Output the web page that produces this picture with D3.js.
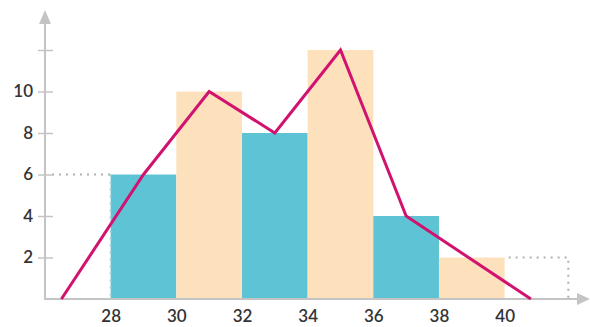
<!DOCTYPE html>
<html>
<head>
<meta charset="utf-8">
<script src="https://cdn.jsdelivr.net/npm/d3@7"></script>
<style>
  body { margin: 0; background: #fff; }
  svg { display: block; font-family: Lato, "Open Sans", sans-serif; }
</style>
</head>
<body>
<div id="chart"></div>
<script>
// histogram classes (lower bound, upper bound) and frequencies
const binStart = [28, 30, 32, 34, 36, 38];
const binEnd = [30, 32, 34, 36, 38, 40];
const freq = [6, 10, 8, 12, 4, 2];

// frequency polygon
const polyX = [26.5, 29, 31, 33, 35, 37, 40.8];
const polyY = [0, 6, 10, 8, 12, 4, 0];

const xTicks = [28, 30, 32, 34, 36, 38, 40];
const yTicks = [2, 4, 6, 8, 10, 12];
const yLabels = ['2', '4', '6', '8', '10', ''];

const W = 591, H = 327;
const svg = d3.select('#chart').append('svg')
    .attr('width', W).attr('height', H);

const x = d3.scaleLinear().domain([26, 42]).range([45, 570.3]);
const y = d3.scaleLinear().domain([0, 12]).range([299, 50]);

const axisCol = '#c4c4c4';

// bars
svg.selectAll('.bar')
    .data(freq)
    .enter()
    .append('rect')
    .attr('x', (d, i) => x(binStart[i]))
    .attr('width', (d, i) => x(binEnd[i]) - x(binStart[i]))
    .attr('y', d => y(d))
    .attr('height', d => y(0) - y(d))
    .attr('fill', (d, i) => i % 2 === 0 ? '#5ec3d4' : '#fde1bd');

// dotted guide lines
const dots = svg.append('g')
    .attr('stroke', '#b0b0b0')
    .attr('stroke-width', 2)
    .attr('stroke-dasharray', '2,5')
    .attr('fill', 'none');
dots.append('line')
    .attr('x1', x(26) + 7).attr('x2', x(28))
    .attr('y1', y(6)).attr('y2', y(6));
dots.append('line')
    .attr('x1', x(28)).attr('x2', x(28))
    .attr('y1', y(6)).attr('y2', y(0))
    .attr('stroke', '#9fcbd4');
dots.append('path')
    .attr('d', `M${x(40) + 4},${y(2)}H${x(42) - 2}V${y(0)}`);

// axes
const axes = svg.append('g');
axes.append('line')
    .attr('x1', x(26)).attr('x2', 580)
    .attr('y1', y(0)).attr('y2', y(0))
    .attr('stroke', axisCol).attr('stroke-width', 2);
axes.append('path')
    .attr('d', `M590,${y(0)} L577,${y(0) - 6} L577,${y(0) + 6} Z`)
    .attr('fill', axisCol);
axes.append('line')
    .attr('x1', x(26)).attr('x2', x(26))
    .attr('y1', y(0) + 1).attr('y2', 22)
    .attr('stroke', axisCol).attr('stroke-width', 2);
axes.append('path')
    .attr('d', `M${x(26)},10 L${x(26) - 6},24 L${x(26) + 6},24 Z`)
    .attr('fill', axisCol);

// y ticks and labels
const yAxis = d3.axisLeft(y)
    .tickValues(yTicks)
    .tickSize(0)
    .tickFormat((d, i) => yLabels[i]);
const yg = svg.append('g')
    .attr('transform', `translate(${x(26)},0)`)
    .call(yAxis);
yg.select('.domain').remove();
yg.selectAll('.tick line')
    .attr('x1', -7).attr('x2', 8)
    .attr('stroke', axisCol).attr('stroke-width', 1.5);
yg.selectAll('.tick text')
    .attr('x', -12)
    .attr('fill', '#333')
    .style('font-size', '17px')
    .style('font-family', 'Lato, sans-serif')
    .style('font-weight', '600');

// x labels
const xAxis = d3.axisBottom(x)
    .tickValues(xTicks)
    .tickSize(0)
    .tickFormat(d3.format('d'));
const xg = svg.append('g')
    .attr('transform', `translate(0,${y(0)})`)
    .call(xAxis);
xg.select('.domain').remove();
xg.selectAll('.tick text')
    .attr('y', 11)
    .attr('fill', '#333')
    .style('font-size', '17px')
    .style('font-family', 'Lato, sans-serif')
    .style('font-weight', '600');

// frequency polygon
const line = d3.line()
    .x((d, i) => x(polyX[i]))
    .y(d => y(d));
svg.append('path')
    .datum(polyY)
    .attr('d', line)
    .attr('fill', 'none')
    .attr('stroke', '#d1136f')
    .attr('stroke-width', 3)
    .attr('stroke-linejoin', 'miter');
</script>
</body>
</html>
